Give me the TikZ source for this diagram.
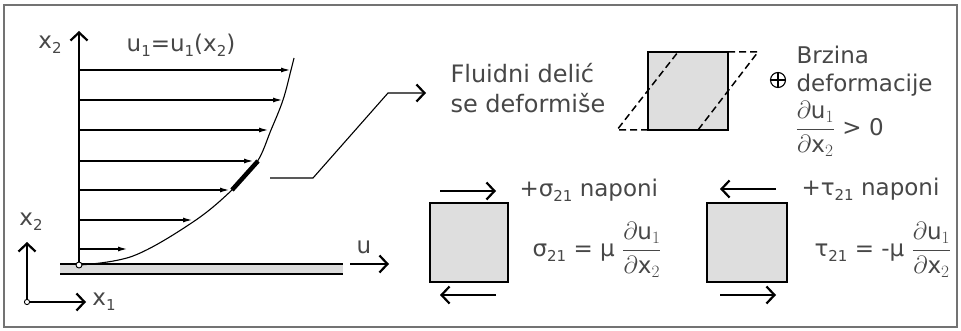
\documentclass[tikz,border=0pt]{standalone}
\usepackage{amsmath}
\usepackage{fontspec}
\setmainfont{DejaVu Sans}
\usetikzlibrary{arrows.meta}

\newcommand\lowidx[1]{\raisebox{-0.4ex}{\fontsize{15}{15}\selectfont #1}}

\tikzset{
  lbl/.style={text=black!72,inner sep=0pt,font=\fontsize{23}{28}\selectfont},
  chev/.style={-{Straight Barb[line width=2.2pt,length=8pt,width=17pt]}},
  vel/.style={-{Latex[length=9pt,width=5pt]}},
  cell/.style={draw,line width=2.8pt,fill=black!13},
}

\begin{document}
\begin{tikzpicture}[x=1pt,y=-1pt,line width=1.1pt]
\useasboundingbox (0,0) rectangle (961,331);
\draw[black!55,line width=1.3pt] (4,5) rectangle (957,327);

% profil brzine
\coordinate (O) at (79,265);
\coordinate (ytop) at (79,31);
\fill[black!14] (60,264) rectangle (343,274);
\draw[line width=2.8pt] (60,264)--(343,264) (60,274)--(343,274);
\draw[chev] (O)--(ytop);
\node[lbl] (lx2) at (50,45) {x\lowidx{2}};
\node[lbl] (lprof) at (181,45) {u\lowidx{1}=u\lowidx{1}(x\lowidx{2})};
\foreach \i/\y/\t in {1/249/127,2/220/192,3/190/229,4/161/253,5/130/268,6/100/282,7/70/290}{
  \coordinate (a\i) at (79,\y);
  \coordinate (t\i) at (\t,\y);
  \draw[vel] (a\i)--(t\i);
}
\draw plot[smooth,tension=.6] coordinates {(79,265) (133,256) (193,222) (232,190) (257,162) (271,130) (283,100) (291,70) (294,58)};
\coordinate (p1) at (232,190);
\coordinate (p2) at (258,161);
\draw[line width=4.5pt] (p1)--(p2);
\draw[fill=white,line width=.9pt] (O) circle (3pt);

% u
\coordinate (u0) at (350,264);
\coordinate (u1) at (389,264);
\draw[chev] (u0)--(u1);
\node[lbl] (lu) at (364,247) {u};

% koordinatni sistem
\coordinate (o2) at (27,302);
\coordinate (e2) at (27,242);
\coordinate (e1) at (86,302);
\draw[chev] (o2)--(e2);
\draw[chev] (o2)--(e1);
\draw[fill=white,line width=.9pt] (o2) circle (2.6pt);
\node[lbl] (lx2b) at (31,222) {x\lowidx{2}};
\node[lbl] (lx1) at (104,302) {x\lowidx{1}};

% fluidni delic
\node[lbl,anchor=west,align=left,font=\fontsize{24}{30}\selectfont] (fd) at (450,88) {Fluidni delić\\se deformiše};
\coordinate (c0) at (270,178);
\coordinate (c1) at (313,178);
\coordinate (c2) at (388,93);
\coordinate (c3) at (426,93);
\draw[chev] (c0)--(c1)--(c2)--(c3);

% deformacija
\draw[cell] (648,52) rectangle (728,130);
\draw[dashed,dash pattern=on 7pt off 4pt,line width=1.5pt] (728,52)--(758,52)--(698,130) (648,130)--(617,130)--(678,52);
\node[draw,circle,minimum size=15pt,inner sep=0pt] (plus) at (778,80) {};
\draw (plus.north)--(plus.south) (plus.west)--(plus.east);
\node[lbl,anchor=west,align=left] (brz) at (796,71) {Brzina\\deformacije};
\node[lbl,anchor=west] (dudx) at (795,129) {$\dfrac{\partial\mathrm{u}_{1}}{\partial\mathrm{x}_{2}}$ > 0};

% naponi sigma
\draw[cell] (430,203) rectangle (508,282);
\draw[chev] (440,191)--(496,191);
\draw[chev] (496,295)--(440,295);
\node[lbl,anchor=west] (sig) at (519,190) {+σ\lowidx{21} naponi};
\node[lbl,anchor=west] (sigeq) at (532,250) {σ\lowidx{21} = μ $\dfrac{\partial\mathrm{u}_{1}}{\partial\mathrm{x}_{2}}$};

% naponi tau
\draw[cell] (707,203) rectangle (787,282);
\draw[chev] (776,189)--(720,189);
\draw[chev] (720,295)--(776,295);
\node[lbl,anchor=west] (tau) at (801,189) {+τ\lowidx{21} naponi};
\node[lbl,anchor=west] (taueq) at (814,250) {τ\lowidx{21} = -μ $\dfrac{\partial\mathrm{u}_{1}}{\partial\mathrm{x}_{2}}$};
\end{tikzpicture}
\end{document}
